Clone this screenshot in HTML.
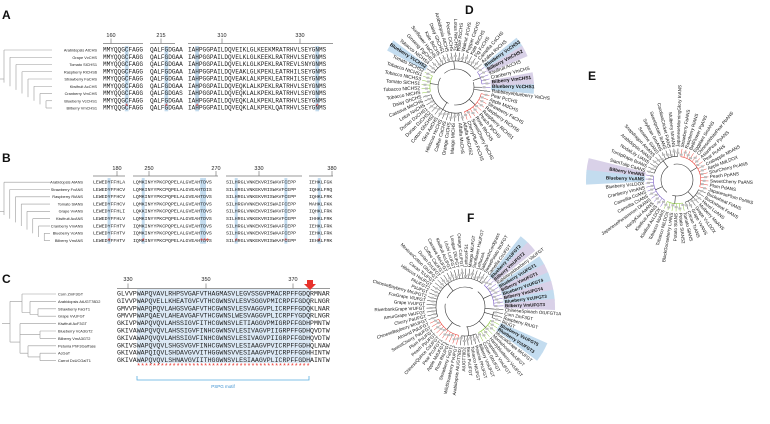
<!DOCTYPE html>
<html><head><meta charset="utf-8">
<style>
html,body{margin:0;padding:0;background:#fff;}
svg{display:block;font-family:"Liberation Sans",sans-serif;}
.mono{font-family:"Liberation Mono",monospace;}
</style></head>
<body>
<svg id="fig" width="770" height="424" viewBox="0 0 770 424" xmlns="http://www.w3.org/2000/svg">
<g id="gA"></g>
<g id="gB"></g>
<g id="gC"></g>
<g id="gD"></g>
<g id="gE"></g>
<g id="gF"></g>
</svg>
<script>
const NS="http://www.w3.org/2000/svg";
// ---------- data ----------
const namesA=["Arabidopsis AtCHS","Grape VvCHS","Tomato SlCHS1","Raspberry RiCHS6","Strawberry FaCHS","Kiwifruit AcCHS","Cranberry VmCHS","Blueberry VcCHS1","Bilberry VmCHS1"];
const seqA=[
["MMYQQGCFAGG","QALFGDGAA","IAHPGGPAILDQVEIKLGLKEEKMRATRHVLSEYGNMS"],
["MMYQQGCFAGG","QALFGDGAA","IAHPGGPAILDQVELKLGLKEEKLRATRHVLSEYGNMS"],
["MMYQQGCFAGG","QALFGDGAA","IAHPGGPAILDQVELKLGLKPEKLRATREVLSNYGNMS"],
["MMYQQGCFAGG","QALFGDGAA","IAHPGGPAILDQVEAKLGLKPEKLEATRHILSEYGNMS"],
["MMYQQGCFAGG","QALFGDGAA","IAHPGGPAILDQVEAKLALKPEKLEATRHILSEYGNMS"],
["MMYQQGCFAGG","QALFGDGAA","IAHPGGPAILDQVEQKLALKPEKLRATRHVLSEYGNMS"],
["MMYQQGCFAGG","QALFGDGAS","IAHPGGPAILDQVEQKLALKPEKLRATRHVLSEYGNMS"],
["MMYQQGCFAGG","QALFGDGAA","IAHPGGPAILDQVEQKLALKPEKLRATRHVLSEYGNMS"],
["MMYQQGCFAGG","QALFGDGAA","IAHPGGPAILDQVEQKLALKPEKLQATRHVLSEYGNMS"]];
const ticksA=["160","215","310","330"];
const namesB=["Arabidopsis AtANS","Strawberry FvANS","Raspberry RiANS","Tomato SlANS","Grape VvANS","Kiwifruit AcANS","Cranberry VmANS","Blueberry VcANS","Bilberry VmANS"];
const seqB=[
["LEWEDYFFHLA","LQMKINYYPKCPQPELALGVEAHTDVS","SILHRGLVNKEKVRISWAVFCEPP","IEHKLFGK"],
["LEWEDYFFHCV","LQMKINYYPKCPQPELALGVEAHTDIS","SILHRGLVNKEKVRISWAVFCEPP","IQHKLFRQ"],
["LEWEDYFFHCV","LQMKINYYPKCPQPELALGVEAHTDVS","SILHRGLVNKEKVRISWAVFCEPP","IQHKLFRK"],
["LEWEDYFFHCV","LQMKINYYPKCPQPELALGVEAHTDVS","SILHRGVVNKEKVRISWAIFCEPP","MAHKLFKK"],
["LEWEDYFFHLI","LQKKINYYPKCPQPELALGVEAHTDVS","SILHRGLVNKEKVRISWAVFCEPP","IQHKLFRK"],
["LEWEDYFFHLV","LQMKINYYPKCPQPELALGVEAHTDVS","SILHRGLVNKEKVRISWAVFCEPP","IHHKLFRK"],
["LEWEDYFFHTV","IQMKINYYPKCPQPELALGVEAHTDVS","SILHRGLVNKEKVRISWAAFCEPP","IEHKLFRK"],
["LEWEDYFFHTV","IQMKINYYPKCPQPELALGVEAHTDVS","SILHRGLVNKEKVRISWAAFCEPP","IEHKLFRK"],
["LEWEDYFFHTV","IQMKINYYPKCPQPELALGVEAHTDVS","SILHRGLVNKEKVRISWAAFCEPP","IEHKLFRK"]];
const ticksB=["180","250","270","330","380"];
const namesC=["Corn ZmF3GT","Arabidopsis AtUGT78D2","Strawberry FaGT1","Grape VvUFGT","Kiwifruit AcF3GT","Blueberry  VcA3GT2","Bilberry VmA3GT2","Petunia PhF3GalTase","AcGaT","Carrot DcUCGalT1"];
const seqC=["GLVVPWAPQVAVLRHPSVGAFVTHAGMASVLEGVSSGVPMACRPFFGDQRMNAR","GIVVPWAPQVELLKHEATGVFVTHCGWNSVLESVSGGVPMICRPFFGDQRLNGR","GMVVPWAPQPQVLAHGSVGAFVTHCGWNSVLESVAGGVPLICRPFFGDQKLNAR","GMVVPWAPQAEVLAHEAVGAFVTHCGWNSLWESVAGGVPLICRPFYGDQRLNGR","GKIVPWAPQVQVLAHSSIGVFITHCGWNSVLETIAGGVPMIGRPFFGDHPMNTW","GKIVAWAPQVQVLAHSSIGVFINHCGWNSVLESIVAGVPIIGRPFFGDHQVDTW","GKIVAWAPQVQVLAHSSIGVFINHCGWNSVLESIVAGVPIIGRPFFGDHQVDTW","GKIVSWAPQVQVLSHGSVGVFINHCGWNSVLESIAAGVPVICRPFFGDHQLNAW","GKIVAWAPQIQVLSHDAVGVVITHGGWNSVVESIAAGVPVICRPFFGDHHINTW","GKIVAWAPQVQVLSHNAVGVIITHGGWNSVLESIAAGVPLICRPFFGDHAINTW"];
const ticksC=["330","350","370"];

// tree labels
const leavesD=["Blueberry VcCHS1","Rabbiteyeblueberry VaCHS","Pear PcCHS","Apple MdCHS","Strawberry FaCHS","Raspberry RiCHS6","Raspberry RiCHS1","Peach PpCHS","Rose RhCHS","SweetCherry PaCHS","CherryPlum PcCHS","Alfalfa MsCHS2","Alfalfa MsCHS","Mango MiCHS","Orange CsCHS","Coffee CaCHS","Hibiscus HcCHS","Okra AeCHS","Cotton GhCHS2","Durian DzCHS2","Durian DzCHS1","Lotus NnCHS","Cassava MeCHS","Daisy GhCHS","Tobacco NtCHS","Tobacco NtCHS2","Tomato SlCHS1","Tobacco NtCHS3","Tobacco NtCHS1","Tomato SlCHS2","Blueberry VcCHS2","Tobacco NtCHS4","Ginseng PgCHS","Sunflower HaCHS","Kale BoCHS","Daisy GhCHS1","Arabidopsis AtCHS","Pecan CiCHS","Lotus NnCHS2","Rose RcCHS","Walnut JrCHS","Pepper CaCHS","Kale BnCHS","Fig FcCHS","Camellia CsCHS","Azalea RsCHS","Blueberry VcCHS3","Bilberry VmCHS2","Kiwifruit AcCHS","Cranberry VmCHS","Bilberry VmCHS1"];
const cladeD=["p","k","r","r","r","r","r","r","r","r","r","k","k","k","k","k","k","k","k","k","k","k","k","k","g","g","g","g","g","g","k","k","k","k","k","k","k","k","k","k","k","k","k","k","k","k","p","p","p","p","p"];
const hlD=[["Blueberry VcCHS1","b"],["Blueberry VcCHS2","b"],["Blueberry VcCHS3","b"],["Bilberry VmCHS2","p"],["Bilberry VmCHS1","p"]];
const leavesE=["Bilberry VmANS","Blueberry VcANS","Blueberry VcLDOX","Cranberry VmANS","Camellia CcANS","Camellia CsANS","JapanesePersimmon DkANS","HardyKiwi AaANS","Kiwifruit AcANS","Kiwifruit AcLDOX","Tobacco NtANS","Tobacco NtLDOX","BlackGooseberry LrANS","Potato StANS","Potato StANS2","Tomato SlANS","Cacao TcANS","Grape VvANS","Grape VvLDOX","Mulberry MaANS","Hazel LoANS","Buckwheat FeANS","Buckwheat FtANS","JapanesePlum PsANS","Plum PdANS","SweetCherry PaANS","Peach PpANS","SourCherry PcANS","Apple MdLDOX","Crabapple MhANS","Pear PcANS","AsianPear PpANS","ChineseWhitePear PbANS","Eggplant SmANS","BellFlower PgANS","Raspberry RiANS","Strawberry FaANS","JapaneseMorningGlory InANS","Mulberry MnANS","CarolinaCricket FtANS","Sweetpotato IbANS","Soybean GmANS","Sesame SiANS","Snapdragon AmANS","Arabidopsis AtANS","NodalLily LlANS","TurnipRape BrANS","SiamTulip CaANS"];
const cladeE=["p","p","p","p","p","p","p","p","p","p","g","g","g","g","g","g","k","k","k","k","k","k","k","r","r","r","r","r","r","r","r","r","r","r","r","r","r","k","k","k","k","k","k","k","k","k","k","k"];
const hlE=[["Bilberry VmANS","p"],["Blueberry VcANS","b"]];
const leavesF=["Corn ZmF3GT","Raspberry RiUGT","RiUGT","Blueberry VcUFGT5","Blueberry VcUFGT3","MuscatGrape MrUFGT","Monkshood MuUFGT","Hardyblueberry VcUFGT","Cranberry VmUFGT","Cotton GhUFGT","Bilberry VmUFGT","Petunia PhUFGT","Tobacco NtUFGT","Bean PvUFGT","AtUGT78D2","Arabidopsis AtUGT78D1","WildStrawberry FvUFGT","Strawberry FaGT1","Rose RhUFGT","Apple MdUFGT1","Pear PcUFGT1","ChineseQuince CsUFGT","Peach PpUFGT","Plum PsUFGT","SweetCherry PaUFGT","Almond PdUFGT","ChineseBayberry MrUFGT","Cherry PaUFGT","AmurGrape VaUFGT","RiverbankGrape VrUFGT","Grape VvUFGT","FoxGrape VlUFGT","ChineseBayberry MrUFGT2","PsUFGT","PhUFGT2","Hibiscus HsUFGT","Cacao TcUFGT","MexicanCotton GhUFGT","Durian DzUFGT","Coffee CaUFGT","Cassava MeUFGT","Kiwifruit AcUFGT","Litchi LcUFGT","Longan DlUFGT","Orange CsUFGT","LettuceFS1","Mango MiUFGT","Sunflower HaUFGT","LettuceA","SaltmarshCordgrass","SweetPotato IbUFGT","Camellia CsUFGT","Blueberry VcUFGT2","Bilberry VmUFGT2","Rabbiteyeblueberry VaUFGT","Blueberry VcUFGT1","Bilberry VmUFGT1","Blueberry VcUFGT4","Bilberry VmUFGT4","Blueberry VcUFGT3b","Bilberry VmUFGT3","ChineseSpinach OtUFGT1A"];
const cladeF=["k","k","k","g","g","g","g","g","g","g","k","k","k","k","k","k","r","r","r","r","r","r","r","r","r","r","k","k","k","k","k","k","k","k","k","k","k","k","k","k","k","k","k","k","k","k","k","k","k","k","k","k","p","p","p","p","p","p","p","p","p","k"];
const hlF=[["Blueberry VcUFGT5","b"],["Blueberry VcUFGT3","b"],["Blueberry VcUFGT2","b"],["Bilberry VmUFGT2","p"],["Blueberry VcUFGT1","b"],["Bilberry VmUFGT1","p"],["Blueberry VcUFGT4","b"],["Bilberry VmUFGT4","p"],["Blueberry VcUFGT3b","b"],["Bilberry VmUFGT3","p"]];

// ---------- helpers ----------
function el(tag,attrs,parent,text){const e=document.createElementNS(NS,tag);for(const k in attrs)e.setAttribute(k,attrs[k]);if(text!==undefined)e.textContent=text;parent.appendChild(e);return e;}
const BLUE="#c3dcef",PURP="#d9d1e8",RED="#e8322c",GREY="#9a9a9a";

function panelLetter(g,ch,x,y){const t=el("text",{x:x,y:y,"font-size":12,"font-weight":"bold",fill:"#111"},g,ch);

}

function cladogram(g,x0,x1,ys){
  const n=ys.length;
  const s=el("g",{stroke:GREY,"stroke-width":0.6,fill:"none"},g);
  
  
  el("line",{x1:x0,y1:(ys[0]+ys[n-1])/2,x2:x0+4,y2:(ys[0]+ys[n-1])/2},s);
  for(let i=0;i<n-1;i++){
    const nx=x0+4+i*(x1-x0-4)/(n-1);
    const midRest=(ys[i+1]+ys[n-1])/2;
    el("line",{x1:nx,y1:ys[i],x2:nx,y2:midRest},s);
    el("line",{x1:nx,y1:ys[i],x2:x1,y2:ys[i]},s);
  }
  const lx=x0+4+(n-2)*(x1-x0-4)/(n-1);
  el("line",{x1:lx,y1:ys[n-1],x2:x1,y2:ys[n-1]},s);
}

function alignment(g,opt){
  const {names,seqs,segX,cw,fs,y0,dy,nameX,hlCols,stars,ticks,tickX,tickY,ruleY,segEnds}=opt;
  const ys=names.map((_,i)=>y0+i*dy);
  hlCols.forEach(([seg,col])=>{
    const r=el("rect",{x:segX[seg]+col*cw,y:ys[0]-dy*0.75,width:cw,height:dy*names.length,fill:BLUE},g);
    
    
  });
  segX.forEach((sx,i)=>{const l=el("line",{x1:sx,y1:ruleY,x2:segEnds[i],y2:ruleY,stroke:GREY,"stroke-width":1},g);
    
    });
  ticks.forEach((t,i)=>{
    el("line",{x1:tickX[i],y1:ruleY-5,x2:tickX[i],y2:ruleY,stroke:"#666","stroke-width":0.6},g);
    const tt=el("text",{x:tickX[i],y:tickY,"font-size":5.5,"text-anchor":"middle",fill:"#222"},g,t);
    
    
  });
  names.forEach((n,i)=>{
    const t=el("text",{x:nameX,y:ys[i],"font-size":3.9,"text-anchor":opt.nameAnchor||"end",fill:"#222"},g,n);
    
    
    seqs[i].forEach((s,j)=>{
      const st=el("text",{x:segX[j],y:ys[i],"font-size":fs,fill:"#222",class:"mono",textLength:s.length*cw,lengthAdjust:"spacingAndGlyphs"},g,s);
      
      
    });
  });
  stars.forEach(([seg,col])=>{
    const s=el("text",{x:segX[seg]+col*cw+cw/2,y:opt.starY,"font-size":7,"text-anchor":"middle",fill:RED},g,"*");
    
    
  });
  return ys;
}

// ---------- panel A ----------
(function(){
  const g=document.getElementById("gA");
  panelLetter(g,"A",2,19);
  const cw=3.64;
  const ys=alignment(g,{names:namesA,seqs:seqA,segX:[103,150,188],segEnds:[143,175,333],cw:cw,fs:6,y0:51.5,dy:7.25,nameX:97,
    hlCols:[[0,6],[1,4],[2,2],[2,35]],stars:[[0,6],[1,4],[2,2],[2,35]],ticks:ticksA,tickX:[111,161,222,300],tickY:37,ruleY:43.5,starY:108.5});
  cladogram(g,0,52,ys.map(y=>y-1.5));
})();
// ---------- panel B ----------
(function(){
  const g=document.getElementById("gB");
  panelLetter(g,"B",2,162);
  const cw=2.92;
  const ys=alignment(g,{names:namesB,seqs:seqB,segX:[93,133,226,309],segEnds:[125,218,302,333],cw:cw,fs:4.9,y0:183.5,dy:7.3,nameX:83,
    hlCols:[[0,5],[1,3],[1,23],[1,24],[2,3],[2,20],[3,3]],stars:[[0,5],[1,3],[1,23],[1,24],[1,25],[2,3],[2,20],[3,3]],ticks:ticksB,tickX:[117,149,216,259,332],tickY:170,ruleY:176,starY:243});
  cladogram(g,0,50,ys.map(y=>y-1.3));
})();
// ---------- panel C ----------
(function(){
  const g=document.getElementById("gC");
  panelLetter(g,"C",2,283);
  const cw=3.94;
  const box=el("rect",{x:137,y:289,width:174,height:74,fill:"#dce9f5"},g);
  
  
  const ys=alignment(g,{names:namesC,seqs:[].concat(seqC.map(s=>[s])),segX:[117],segEnds:[330],cw:cw,fs:6.6,y0:295.5,dy:7.4,nameX:58,nameAnchor:"start",
    hlCols:[],stars:[],ticks:ticksC,tickX:[128,206,293],tickY:281,ruleY:288.5,starY:0});
  for(let i=5;i<=48;i++){
    const s=el("text",{x:117+i*cw+cw/2,y:368,"font-size":7,"text-anchor":"middle",fill:RED},g,"*");
    
    
  }
  const br=el("path",{d:"M137,376 V380 H309 V376",stroke:"#5aaee0","stroke-width":0.8,fill:"none"},g);
  
  
  const mt=el("text",{x:223,y:388,"font-size":4.5,"text-anchor":"middle",fill:"#3a8fd0"},g,"PSPG motif");
  
  
  const ar=el("path",{d:"M307,280 H313 V284 H316 L310,290 L304,284 H307 Z",fill:RED},g);
  
  
  const s=el("g",{stroke:GREY,"stroke-width":0.6,fill:"none"},g);
  
  
  const y=ys.map(v=>v-1.5);
  const d=`M2,${(y[1]+y[7])/2} H10 M10,${(y[0]+y[2])/2} V${(y[5]+y[8])/2}
  M10,${(y[0]+y[2])/2} H22 M22,${y[0]} V${(y[2]+y[3])/2} M22,${y[0]} H56 M22,${(y[2]+y[3])/2} H30 M30,${y[1]} V${(y[2]+y[3])/2+2} M30,${y[1]} H56 M30,${(y[2]+y[3])/2+2} H38 M38,${y[2]} V${y[3]} M38,${y[2]} H56 M38,${y[3]} H56
  M10,${(y[5]+y[8])/2} H20 M20,${y[4]} V${(y[7]+y[9])/2} M20,${y[4]} H56 M20,${(y[5]+y[6])/2} H40 M40,${y[5]} V${y[6]} M40,${y[5]} H56 M40,${y[6]} H56
  M20,${(y[7]+y[9])/2} H28 M28,${y[7]} V${(y[8]+y[9])/2} M28,${y[7]} H56 M28,${(y[8]+y[9])/2} H40 M40,${y[8]} V${y[9]} M40,${y[8]} H56 M40,${y[9]} H56`;
  el("path",{d:d},s);
})();

// ---------- radial trees ----------
const CLR={k:"#333",r:"#e8453c",g:"#8cc63f",p:"#7b5fc4"};
function radialTree(g,leaves,clades,hl,o){
  const {cx,cy,a0,a1,r0,rl,fs,hlLen}=o;
  const n=leaves.length, step=(a1-a0)/n;
  const ang=i=>(a0+step*(i+0.5))*Math.PI/180;
  hl.forEach(([name,c])=>{
    const i=leaves.indexOf(name); if(i<0)return;
    const a=ang(i), h=Math.abs(step)*0.62*Math.PI/180, r1=rl-1, r2=rl+hlLen;
    const p=(r,t)=>(cx+r*Math.cos(t)).toFixed(1)+","+(cy+r*Math.sin(t)).toFixed(1);
    const w=el("path",{d:`M${p(r1,a-h)} L${p(r2,a-h)} A${r2},${r2} 0 0 1 ${p(r2,a+h)} L${p(r1,a+h)} A${r1},${r1} 0 0 0 ${p(r1,a-h)} Z`,fill:c==="b"?BLUE:PURP},g);
    
    
  });
  const ring=el("circle",{cx:cx,cy:cy,r:r0,fill:"none",stroke:"#333","stroke-width":0.6,"stroke-dasharray":"30 6"},g);
  
  
  let start=0;
  for(let i=1;i<=n;i++){
    if(i===n||clades[i]!==clades[start]){
      const rA=r0+(rl-r0)*0.45;
      let t1=ang(start),t2=ang(i-1);
      if(t2<t1){const tmp=t1;t1=t2;t2=tmp;}
      const large=(t2-t1)>Math.PI?1:0;
      el("path",{d:`M${cx+rA*Math.cos(t1)},${cy+rA*Math.sin(t1)} A${rA},${rA} 0 ${large} 1 ${cx+rA*Math.cos(t2)},${cy+rA*Math.sin(t2)}`,fill:"none",stroke:CLR[clades[start]],"stroke-width":0.6},g);
      const tm=(t1+t2)/2;
      el("line",{x1:cx+r0*Math.cos(tm),y1:cy+r0*Math.sin(tm),x2:cx+rA*Math.cos(tm),y2:cy+rA*Math.sin(tm),stroke:"#333","stroke-width":0.6},g);
      start=i;
    }
  }
  leaves.forEach((name,i)=>{
    const t=ang(i), rA=r0+(rl-r0)*0.45+(i%3)*1.5;
    const br=el("line",{x1:cx+(r0+(rl-r0)*0.45)*Math.cos(t),y1:cy+(r0+(rl-r0)*0.45)*Math.sin(t),x2:cx+(rl-1.5)*Math.cos(t),y2:cy+(rl-1.5)*Math.sin(t),stroke:CLR[clades[i]],"stroke-width":0.5},g);
    
    
    const bs=el("rect",{x:cx+(rA+2)*Math.cos(t)-1.5,y:cy+(rA+2)*Math.sin(t)-1,width:3,height:2,fill:"#bbb"},g);
    
    
    let deg=t*180/Math.PI; deg=((deg%360)+360)%360;
    const flip=deg>90&&deg<270;
    const x=cx+rl*Math.cos(t), y=cy+rl*Math.sin(t);
    const isHl=hl.some(h=>h[0]===name);
    const tx=el("text",{x:x,y:y,"font-size":fs,fill:"#111","font-weight":isHl?"bold":"normal","dominant-baseline":"central","text-anchor":flip?"end":"start",transform:`rotate(${flip?deg-180:deg} ${x} ${y})`},g,name.replace(/b$/,""));
    
    
  });
}
(function(){const g=document.getElementById("gD");panelLetter(g,"D",465,14);
  radialTree(g,leavesD,cladeD,hlD,{cx:456,cy:87,a0:-3,a1:357,r0:18,rl:36,fs:4.8,hlLen:42});})();
(function(){const g=document.getElementById("gE");panelLetter(g,"E",588,80);
  radialTree(g,leavesE,cladeE,hlE,{cx:677,cy:180,a0:193,a1:-167,r0:16,rl:33,fs:4.6,hlLen:58});})();
(function(){const g=document.getElementById("gF");panelLetter(g,"F",467,222);
  radialTree(g,leavesF,cladeF,hlF,{cx:465,cy:307,a0:7,a1:367,r0:20,rl:40,fs:4.5,hlLen:50});})();
</script>
</body></html>
